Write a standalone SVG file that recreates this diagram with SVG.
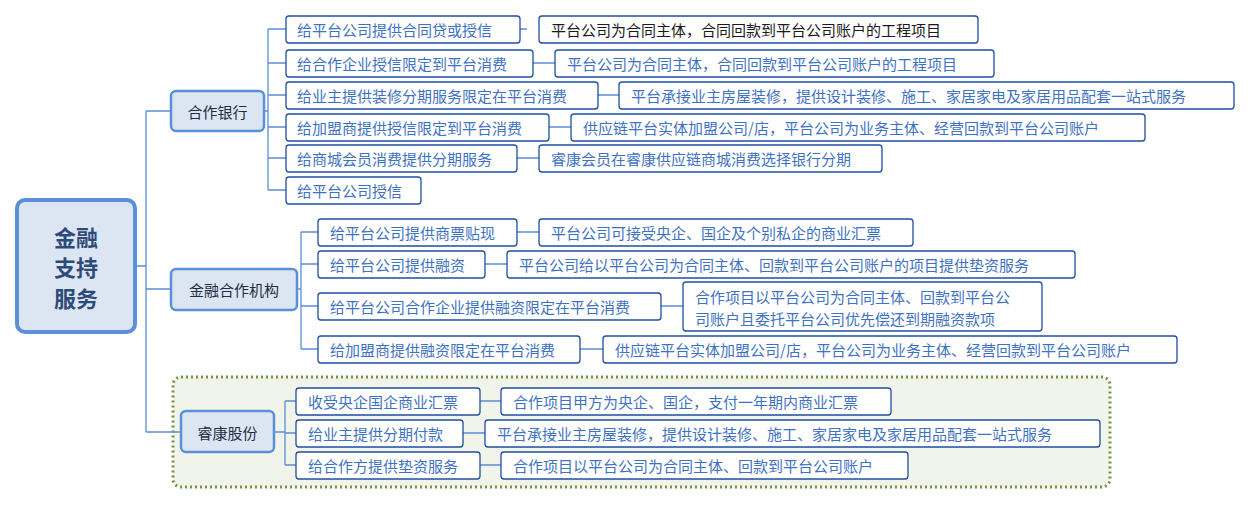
<svg xmlns="http://www.w3.org/2000/svg" width="1251" height="505" viewBox="0 0 1251 505">
<style>
text{font-family:"Microsoft YaHei","Noto Sans CJK SC",sans-serif;font-size:15px;dominant-baseline:central}
.lf rect{fill:#fff;stroke:#1f4ea0;stroke-width:1.3}
.lf text{fill:#3f72c2}
.br rect{fill:#dce6f2;stroke:#5b8fd6;stroke-width:2.5}
.br text{fill:#1f2d44;text-anchor:middle}
#c path{fill:none;stroke:#5b8fd6;stroke-width:1.3}
</style>
<rect x="173" y="377" width="937" height="110" rx="8" fill="#f0f4ea" stroke="#77933c" stroke-width="3" stroke-dasharray="2 3"/>
<g id="c">
<path d="M135 266H146M146 111V432M146 111H171M146 289H171M146 432H181"/>
<path d="M264 111H268M268 29V190M268 29H286M268 63H286M268 95H286M268 127H286M268 158H286M268 190H286"/>
<path d="M520 29H527M533 63H555M598 95H619M549 127H571M517 158H539"/>
<path d="M297 289H301M301 232V349M301 232H318M301 264H318M301 306H318M301 349H318"/>
<path d="M517 232H539M485 264H507M661 306H683M580 349H603"/>
<path d="M274 432H285M285 401V465M285 401H296M285 433H296M285 465H296"/>
<path d="M480 401H501M463 433H485M480 465H501"/>
</g>
<g id="root"><rect x="17" y="200" width="118" height="132" rx="8" fill="#dce6f2" stroke="#5b8fd6" stroke-width="4"/>
<text x="76" y="236" text-anchor="middle" style="font-size:22px;font-weight:bold;fill:#2e4a7a">金融</text>
<text x="76" y="266" text-anchor="middle" style="font-size:22px;font-weight:bold;fill:#2e4a7a">支持</text>
<text x="76" y="297" text-anchor="middle" style="font-size:22px;font-weight:bold;fill:#2e4a7a">服务</text></g>
<g id="b1" class="br"><rect x="171" y="91" width="93" height="40" rx="5"/><text x="217.5" y="111">合作银行</text></g>
<g id="b2" class="br"><rect x="171" y="269" width="126" height="41" rx="5"/><text x="234" y="289">金融合作机构</text></g>
<g id="b3" class="br"><rect x="181" y="411" width="93" height="41" rx="5"/><text x="227.5" y="432">睿康股份</text></g>
<g id="l1" class="lf"><rect x="286" y="16" width="234" height="27" rx="3"/><text x="297" y="29">给平台公司提供合同贷或授信</text></g>
<g id="l2" class="lf"><rect x="286" y="50" width="247" height="27" rx="3"/><text x="297" y="63">给合作企业授信限定到平台消费</text></g>
<g id="l3" class="lf"><rect x="286" y="82" width="312" height="27" rx="3"/><text x="297" y="95">给业主提供装修分期服务限定在平台消费</text></g>
<g id="l4" class="lf"><rect x="286" y="114" width="263" height="27" rx="3"/><text x="297" y="127">给加盟商提供授信限定到平台消费</text></g>
<g id="l5" class="lf"><rect x="286" y="145" width="231" height="27" rx="3"/><text x="297" y="158">给商城会员消费提供分期服务</text></g>
<g id="l6" class="lf"><rect x="286" y="177" width="135" height="27" rx="3"/><text x="297" y="190">给平台公司授信</text></g>
<g id="r1" class="lf"><rect x="539" y="16" width="439" height="27" rx="3"/><text x="551" y="29" style="fill:#1a1a1a">平台公司为合同主体，合同回款到平台公司账户的工程项目</text></g>
<g id="r2" class="lf"><rect x="555" y="50" width="439" height="27" rx="3"/><text x="567" y="63">平台公司为合同主体，合同回款到平台公司账户的工程项目</text></g>
<g id="r3" class="lf"><rect x="619" y="82" width="615" height="27" rx="3"/><text x="631" y="95">平台承接业主房屋装修，提供设计装修、施工、家居家电及家居用品配套一站式服务</text></g>
<g id="r4" class="lf"><rect x="571" y="114" width="574" height="27" rx="3"/><text x="583" y="127">供应链平台实体加盟公司/店，平台公司为业务主体、经营回款到平台公司账户</text></g>
<g id="r5" class="lf"><rect x="539" y="145" width="343" height="27" rx="3"/><text x="551" y="158">睿康会员在睿康供应链商城消费选择银行分期</text></g>
<g id="m1" class="lf"><rect x="318" y="219" width="199" height="27" rx="3"/><text x="330" y="232">给平台公司提供商票贴现</text></g>
<g id="m2" class="lf"><rect x="318" y="251" width="167" height="27" rx="3"/><text x="330" y="264">给平台公司提供融资</text></g>
<g id="m3" class="lf"><rect x="318" y="293" width="343" height="27" rx="3"/><text x="330" y="306">给平台公司合作企业提供融资限定在平台消费</text></g>
<g id="m4" class="lf"><rect x="318" y="336" width="262" height="27" rx="3"/><text x="330" y="349">给加盟商提供融资限定在平台消费</text></g>
<g id="n1" class="lf"><rect x="539" y="219" width="374" height="27" rx="3"/><text x="551" y="232">平台公司可接受央企、国企及个别私企的商业汇票</text></g>
<g id="n2" class="lf"><rect x="507" y="251" width="568" height="27" rx="3"/><text x="519" y="264">平台公司给以平台公司为合同主体、回款到平台公司账户的项目提供垫资服务</text></g>
<g id="n3" class="lf"><rect x="683" y="282" width="359" height="49" rx="3"/><text x="695" y="296">合作项目以平台公司为合同主体、回款到平台公</text><text x="695" y="318">司账户且委托平台公司优先偿还到期融资款项</text></g>
<g id="n4" class="lf"><rect x="603" y="336" width="574" height="27" rx="3"/><text x="615" y="349">供应链平台实体加盟公司/店，平台公司为业务主体、经营回款到平台公司账户</text></g>
<g id="k1" class="lf"><rect x="296" y="388" width="184" height="27" rx="3"/><text x="308" y="401">收受央企国企商业汇票</text></g>
<g id="k2" class="lf"><rect x="296" y="420" width="167" height="27" rx="3"/><text x="308" y="433">给业主提供分期付款</text></g>
<g id="k3" class="lf"><rect x="296" y="452" width="184" height="27" rx="3"/><text x="308" y="465">给合作方提供垫资服务</text></g>
<g id="q1" class="lf"><rect x="501" y="388" width="390" height="27" rx="3"/><text x="513" y="401">合作项目甲方为央企、国企，支付一年期内商业汇票</text></g>
<g id="q2" class="lf"><rect x="485" y="420" width="615" height="27" rx="3"/><text x="497" y="433">平台承接业主房屋装修，提供设计装修、施工、家居家电及家居用品配套一站式服务</text></g>
<g id="q3" class="lf"><rect x="501" y="452" width="407" height="27" rx="3"/><text x="513" y="465">合作项目以平台公司为合同主体、回款到平台公司账户</text></g>
</svg>
